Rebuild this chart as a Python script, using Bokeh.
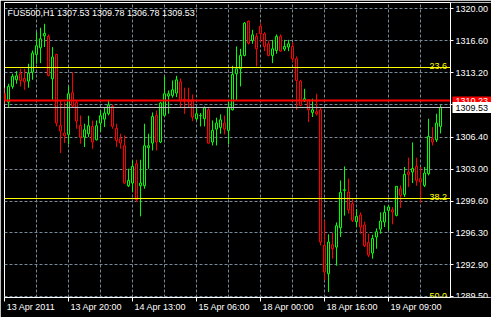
from bokeh.plotting import figure
from bokeh.models import Range1d, FixedTicker, Label, ColumnDataSource
from bokeh.embed import file_html
from bokeh.resources import INLINE

# ---------------- data ----------------
symbol = "FUS500,H1"

opens = [1311.00, 1310.11, 1311.77, 1312.47, 1313.11, 1312.61, 1312.33, 1313.29, 1315.16, 1315.87,
         1317.14, 1317.07, 1312.58, 1315.16, 1307.63, 1306.82, 1306.68, 1311.10, 1310.07, 1307.63,
         1306.40, 1306.75, 1307.53, 1306.11, 1307.88, 1308.30, 1308.87, 1309.65, 1307.31, 1306.22,
         1305.48, 1301.24, 1301.52, 1303.57, 1301.24, 1301.24, 1305.27, 1305.76, 1308.69, 1305.87,
         1308.69, 1310.74, 1310.81, 1311.06, 1312.26, 1310.42, 1310.35, 1310.35, 1308.34, 1308.66,
         1308.34, 1309.29, 1305.87, 1307.24, 1307.42, 1307.88, 1307.10, 1309.29, 1313.11, 1313.64,
         1315.05, 1318.69, 1316.64, 1317.07, 1318.13, 1317.35, 1316.29, 1315.05, 1315.58, 1317.07,
         1315.72, 1315.94, 1316.01, 1314.70, 1312.33, 1310.21, 1310.35, 1309.01, 1309.08, 1309.29,
         1294.91, 1291.91, 1294.98, 1294.73, 1296.78, 1300.74, 1300.57, 1299.33, 1297.42, 1298.13,
         1297.07, 1295.23, 1294.10, 1295.80, 1296.64, 1297.39, 1298.62, 1298.69, 1298.09, 1300.92,
         1300.32, 1302.69, 1302.69, 1303.29, 1301.98, 1301.27, 1302.51, 1306.22, 1306.11, 1307.53]
highs = [1311.63, 1312.05, 1313.11, 1313.39, 1313.64, 1313.64, 1314.17, 1315.58, 1317.53, 1317.99,
         1318.41, 1317.28, 1315.94, 1315.23, 1310.28, 1310.11, 1311.77, 1313.29, 1310.28, 1308.69,
         1307.81, 1308.66, 1308.16, 1308.16, 1309.22, 1309.58, 1310.35, 1309.86, 1307.81, 1306.75,
         1306.57, 1303.04, 1303.92, 1303.99, 1303.99, 1307.81, 1306.75, 1309.01, 1309.22, 1310.11,
         1312.83, 1311.34, 1312.40, 1312.90, 1312.61, 1311.63, 1311.63, 1310.92, 1309.51, 1308.94,
         1309.65, 1309.51, 1308.16, 1308.45, 1308.80, 1308.69, 1310.28, 1313.96, 1316.01, 1315.76,
         1318.59, 1318.76, 1317.77, 1317.42, 1318.48, 1317.53, 1316.64, 1316.71, 1317.28, 1317.28,
         1316.71, 1316.71, 1316.47, 1314.95, 1312.47, 1311.52, 1310.42, 1310.46, 1310.99, 1309.51,
         1297.56, 1296.08, 1296.22, 1297.35, 1301.80, 1303.29, 1301.98, 1299.82, 1298.76, 1298.41,
         1297.42, 1296.15, 1296.04, 1296.71, 1298.41, 1299.15, 1299.19, 1298.98, 1301.20, 1301.27,
         1303.22, 1304.21, 1305.83, 1304.21, 1303.22, 1303.22, 1308.34, 1307.46, 1308.87, 1309.78]
lows = [1309.90, 1309.58, 1311.52, 1312.05, 1311.77, 1311.41, 1311.63, 1312.47, 1314.17, 1314.24,
        1315.94, 1312.83, 1310.35, 1307.53, 1304.70, 1305.76, 1305.62, 1309.58, 1307.28, 1305.69,
        1305.34, 1306.40, 1305.16, 1306.04, 1306.93, 1307.46, 1308.69, 1307.28, 1305.34, 1305.16,
        1301.45, 1301.10, 1300.57, 1299.51, 1297.99, 1300.92, 1303.04, 1304.98, 1304.98, 1305.76,
        1308.60, 1308.87, 1310.57, 1310.64, 1309.51, 1308.87, 1309.58, 1308.09, 1308.16, 1307.53,
        1307.53, 1305.72, 1305.51, 1305.51, 1306.75, 1306.68, 1305.62, 1309.22, 1310.28, 1311.77,
        1314.95, 1316.22, 1316.29, 1313.89, 1316.50, 1315.51, 1314.95, 1314.24, 1315.23, 1315.44,
        1315.51, 1315.51, 1314.35, 1309.29, 1309.65, 1310.11, 1307.99, 1308.52, 1308.69, 1294.91,
        1291.20, 1289.96, 1293.50, 1292.76, 1295.80, 1298.06, 1298.27, 1297.39, 1296.86, 1296.15,
        1294.73, 1293.67, 1293.50, 1294.56, 1296.15, 1296.86, 1296.50, 1297.14, 1297.99, 1298.90,
        1300.04, 1301.10, 1301.52, 1301.24, 1299.40, 1301.10, 1302.33, 1305.51, 1305.87, 1306.78]
closes = [1310.30, 1311.77, 1312.83, 1312.90, 1312.40, 1312.26, 1313.18, 1315.30, 1316.08, 1316.82,
          1317.39, 1312.93, 1314.88, 1307.88, 1307.03, 1306.54, 1310.99, 1309.68, 1308.09, 1306.40,
          1307.17, 1307.60, 1305.87, 1307.60, 1308.66, 1308.94, 1309.79, 1307.53, 1306.04, 1305.76,
          1301.52, 1301.80, 1303.29, 1299.75, 1301.52, 1305.48, 1305.48, 1308.59, 1305.87, 1310.00,
          1310.99, 1310.99, 1311.41, 1312.47, 1310.28, 1310.21, 1310.18, 1308.52, 1308.87, 1308.69,
          1309.51, 1305.76, 1307.10, 1307.88, 1308.23, 1307.24, 1309.58, 1313.04, 1313.64, 1315.05,
          1318.48, 1316.36, 1317.24, 1315.76, 1317.35, 1316.01, 1315.05, 1315.76, 1317.07, 1315.51,
          1316.01, 1316.29, 1314.70, 1312.40, 1309.75, 1310.46, 1309.29, 1309.29, 1308.87, 1295.27,
          1292.09, 1295.27, 1294.56, 1297.00, 1300.53, 1300.81, 1298.69, 1297.56, 1297.99, 1296.86,
          1294.88, 1293.89, 1295.65, 1296.36, 1297.49, 1298.41, 1298.98, 1298.45, 1301.17, 1300.21,
          1302.44, 1302.44, 1303.07, 1301.80, 1301.63, 1302.58, 1306.47, 1305.87, 1307.88, 1309.53]

time_tick_bars = [0, 16, 32, 48, 64, 80, 96]
time_tick_labels = ["13 Apr 2011", "13 Apr 20:00", "14 Apr 13:00", "15 Apr 06:00",
                    "18 Apr 00:00", "18 Apr 16:00", "19 Apr 09:00"]
price_ticks = [1320.00, 1316.60, 1313.20, 1309.80, 1306.40, 1303.00, 1299.60, 1296.25, 1292.85, 1289.50]
price_tick_labels = ["1320.00", "1316.60", "1313.20", "", "1306.40", "1303.00", "1299.60",
                     "1296.30", "1292.90", "1289.50"]
fibo_labels = ["23.6", "38.2", "50.0"]
fibo_prices = [1313.74, 1299.85, 1288.88]
red_line_price = 1310.23
bid_price = closes[-1]

# ---------------- layout / style ----------------
FONT = "Liberation Sans"
FS_PX = 9
FS = "%dpx" % FS_PX
W, H = 491, 317
B_LEFT, B_TOP, B_BOTTOM = 4, 2, 20
AXIS_W = 41                      # width of the price scale strip (inside the frame)
FRAME_W = W - B_LEFT
FRAME_H = H - B_TOP - B_BOTTOM
BAR_PX = 4
x_start = 0.0
x_end = x_start + FRAME_W / BAR_PX
x_chart_end = x_start + (FRAME_W - AXIS_W) / BAR_PX
y_start, y_end = 1289.385, 1320.668
ppu = FRAME_H / (y_end - y_start)
GRID = "#778899"
UP, DOWN = "#00FF00", "#FF0000"

# approximate Liberation Sans advance widths (per 1000 em) to left-align time labels at ticks
_adv = {" ": 278, ":": 278, "A": 667, "p": 556, "r": 333}
def text_px(s):
    return sum(_adv.get(ch, 556) for ch in s) * FS_PX / 1000.0

bars = list(range(len(opens)))
colors = [UP if c >= o else DOWN for o, c in zip(opens, closes)]
src = ColumnDataSource(dict(
    x=bars, o=opens, h=highs, l=lows, c=closes,
    top=[max(o, c) for o, c in zip(opens, closes)],
    bottom=[min(o, c) for o, c in zip(opens, closes)],
    color=colors,
))

p = figure(width=W, height=H, x_range=Range1d(x_start, x_end), y_range=Range1d(y_start, y_end),
           output_backend="svg", toolbar_location=None,
           min_border_left=B_LEFT, min_border_right=0,
           min_border_top=B_TOP, min_border_bottom=B_BOTTOM,
           y_axis_location="right",
           background_fill_color="black", border_fill_color="black",
           outline_line_color="white", outline_line_width=1)

# grids
p.xgrid.ticker = FixedTicker(ticks=list(range(8, len(bars), 8)))
for g in (p.xgrid, p.ygrid):
    g.grid_line_color = GRID
    g.grid_line_dash = "3 2"
    g.grid_line_width = 1

# price axis: drawn at the right edge of the chart area
p.yaxis.fixed_location = x_chart_end
p.yaxis.ticker = FixedTicker(ticks=price_ticks)
p.yaxis.major_label_overrides = {t: l for t, l in zip(price_ticks, price_tick_labels)}
p.yaxis.major_tick_out = 3
p.yaxis.major_label_standoff = 2

# time axis: minor ticks mark the times, labels start just right of them
label_centers = [round(b + (2 + text_px(t) / 2) / BAR_PX, 3) for b, t in zip(time_tick_bars, time_tick_labels)]
p.xaxis.ticker = FixedTicker(ticks=label_centers, minor_ticks=time_tick_bars)
p.xaxis.major_label_overrides = {c: t for c, t in zip(label_centers, time_tick_labels)}
p.xaxis.bounds = (x_start, x_chart_end)
p.xaxis.major_tick_out = 0
p.xaxis.minor_tick_out = 4
p.xaxis.minor_tick_in = 0
p.xaxis.minor_tick_line_color = "white"
p.xaxis.major_label_standoff = 0

for ax in (p.xaxis, p.yaxis):
    ax.axis_line_color = "white"
    ax.major_tick_line_color = "white"
    ax.major_tick_in = 0
    ax.major_label_text_color = "white"
    ax.major_label_text_font = FONT
    ax.major_label_text_font_size = FS
p.yaxis.minor_tick_line_color = None

# candles
p.segment(x0="x", y0="h", x1="x", y1="l", line_color="color", line_width=1, source=src)
p.vbar(x="x", width=0.5, top="top", bottom="bottom", fill_color="black",
       line_color="color", line_width=1, source=src)

# horizontal objects
p.hspan(y=fibo_prices, line_color="#FFFF00", line_width=1)
p.hspan(y=[red_line_price], line_color="#FF0000", line_width=2)
p.hspan(y=[bid_price], line_color="#C0C0C0", line_width=1)

# black price-scale strip (hides grid and lines to the right of the chart)
p.quad(left=[x_chart_end], right=[x_end], bottom=[y_start], top=[y_end],
       fill_color="black", line_color=None)

# fibo level captions, 2px above their level lines; a caption whose level lies below
# the chart is kept at the bottom edge, cut by the frame as in MT4
for lab, lvl in zip(fibo_labels, fibo_prices):
    base = lvl + 2 / ppu
    if base > y_start:
        lbl = Label(x=x_chart_end - 0.85, y=base, text=lab, text_align="right",
                    text_baseline="alphabetic", text_color="#FFFF00",
                    text_font=FONT, text_font_size=FS)
    else:
        lbl = Label(x=x_chart_end - 0.85, y=y_start + 5 / ppu, text=lab, text_align="right",
                    text_baseline="top", text_color="#FFFF00",
                    text_font=FONT, text_font_size=FS)
    p.add_layout(lbl)

# header
header = "%s  %.2f %.2f %.2f %.2f" % (symbol, opens[-1], highs[-1], lows[-1], closes[-1])
p.add_layout(Label(x=x_start + 3 / BAR_PX, y=y_end - 5 / ppu, text=header,
                   text_align="left", text_baseline="top", text_color="white",
                   text_font=FONT, text_font_size=FS))

# price boxes on the scale
p.add_layout(Label(x=x_chart_end, x_offset=2, y=red_line_price, text="%.2f" % red_line_price,
                   text_align="left", text_baseline="middle", text_color="white",
                   background_fill_color="#FF0000",
                   padding=dict(left=3, right=6, top=2, bottom=1),
                   text_font=FONT, text_font_size=FS))
p.add_layout(Label(x=x_chart_end, x_offset=2, y=bid_price, text="%.2f" % bid_price,
                   text_align="left", text_baseline="middle", text_color="black",
                   background_fill_color="white",
                   padding=dict(left=3, right=6, top=3, bottom=2),
                   text_font=FONT, text_font_size=FS))

open("out.html", "w").write(file_html(p, INLINE))
